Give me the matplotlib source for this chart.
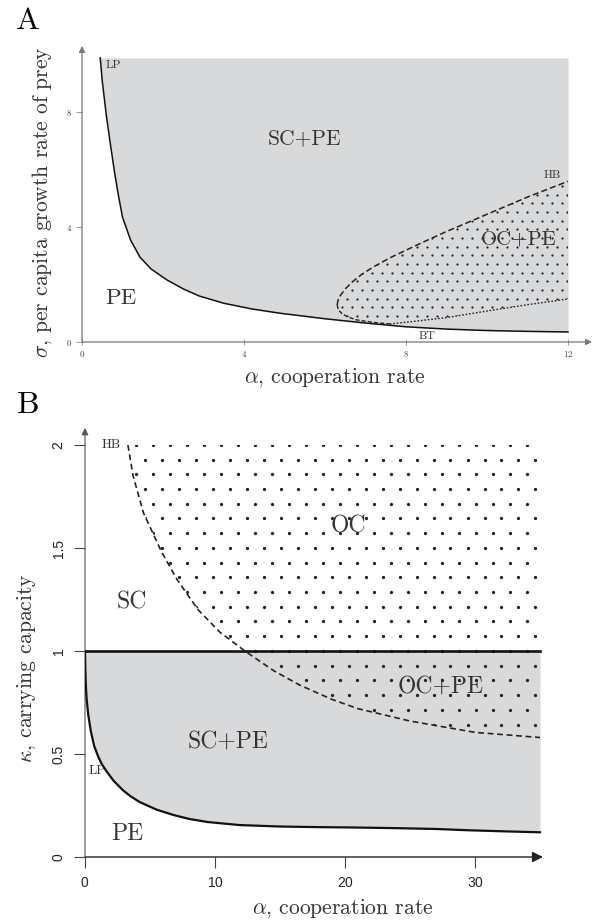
import numpy as np
import matplotlib.pyplot as plt
from matplotlib.patches import Polygon

plt.rcParams['mathtext.fontset'] = 'cm'
plt.rcParams['font.family'] = ['cmr10', 'DejaVu Serif']
plt.rcParams['axes.formatter.use_mathtext'] = True

# ---- panel A data (alpha, sigma) ----
lp_a_alpha = [0.45, 0.5, 0.6, 0.7, 0.8, 0.9, 1.0, 1.2, 1.43, 1.7, 2.1, 2.5, 2.9, 3.5, 4.2, 4.9, 6.0, 7.0, 8.0, 9.0, 10.0, 11.0, 12.0]
lp_a_sigma = [9.9, 9.1, 7.9, 6.9, 5.95, 5.1, 4.35, 3.55, 2.96, 2.55, 2.16, 1.85, 1.6, 1.35, 1.15, 1.0, 0.81, 0.66, 0.53, 0.45, 0.4, 0.37, 0.35]
hb_a_up_alpha = [6.3, 6.32, 6.38, 6.5, 6.68, 6.9, 7.2, 7.6, 8.0, 8.5, 9.0, 9.5, 10.0, 11.0, 12.0]
hb_a_up_sigma = [1.29, 1.45, 1.62, 1.85, 2.1, 2.35, 2.62, 2.93, 3.2, 3.53, 3.85, 4.15, 4.45, 5.05, 5.6]
hb_a_lo_alpha = [6.3, 6.33, 6.41, 6.55, 6.78, 7.2, 7.6]
hb_a_lo_sigma = [1.29, 1.12, 1.0, 0.88, 0.77, 0.68, 0.63]
bt_a_alpha = [7.6, 8.2, 9.0, 10.0, 11.0, 12.0]
bt_a_sigma = [0.63, 0.72, 0.85, 1.08, 1.3, 1.5]
a_top = 9.9
a_xticks = [0, 4, 8, 12]
a_yticks = [0, 4, 8]

# ---- panel B data (alpha, kappa) ----
lp_b_alpha = [0.0, 0.02, 0.06, 0.12, 0.25, 0.45, 0.7, 1.0, 1.3, 1.67, 2.2, 2.9, 3.5, 4.2, 5.5, 6.8, 8.0, 9.4, 11.9, 15.0, 18.0, 21.0, 24.0, 27.0, 29.4, 32.0, 35.0]
lp_b_kappa = [1.0, 0.92, 0.84, 0.77, 0.69, 0.61, 0.54, 0.49, 0.45, 0.415, 0.37, 0.325, 0.295, 0.267, 0.23, 0.204, 0.185, 0.17, 0.155, 0.148, 0.145, 0.143, 0.14, 0.136, 0.13, 0.125, 0.12]
hb_b_alpha = [3.3, 3.7, 4.5, 5.9, 7.1, 8.7, 10.4, 12.3, 14.5, 16.5, 19.0, 21.0, 25.0, 30.0, 35.0]
hb_b_kappa = [2.0, 1.85, 1.67, 1.48, 1.345, 1.2, 1.09, 1.0, 0.905, 0.835, 0.765, 0.72, 0.66, 0.605, 0.58]
b_right = 35.0
b_top = 2.0
b_xticks = [0, 10, 20, 30]
b_yticks = [0, 0.5, 1, 1.5, 2]
b_yticklabels = ['0', '0.5', '1', '1.5', '2']

GRAY = '#d8d9db'
W, H = 597, 922
fig = plt.figure(figsize=(W / 100, H / 100), dpi=100)


def px_axes(x0, y0, x1, y1):
    """axes from a pixel box (left, top, right, bottom)"""
    ax = fig.add_axes([x0 / W, 1 - y1 / H, (x1 - x0) / W, (y1 - y0) / H])
    for s in ax.spines.values():
        s.set_visible(False)
    ax.patch.set_alpha(0)
    return ax


def stipple(ax, patch, step_px, size, color):
    """dot texture clipped to a patch"""
    bb = ax.get_window_extent()
    ny = int(bb.height / (step_px * 0.866)) + 2
    nx = int(bb.width / step_px) + 2
    pts = []
    for j in range(ny):
        for i in range(nx):
            pts.append((i * step_px + (j % 2) * step_px / 2 + bb.x0, j * step_px * 0.866 + bb.y0))
    pts = ax.transData.inverted().transform(np.array(pts))
    sc = ax.scatter(pts[:, 0], pts[:, 1], s=size, color=color, linewidths=0, zorder=3)
    sc.set_clip_path(patch)


def arrow(ax, x0, y0, x1, y1, color, lw, scale):
    ax.annotate('', xy=(x1, y1), xytext=(x0, y0), annotation_clip=False,
                arrowprops=dict(arrowstyle='-|>', color=color, lw=lw, shrinkA=0, shrinkB=0,
                                mutation_scale=scale))


# ================= panel A =================
axA = px_axes(82, 46, 592, 342)
axA.set_xlim(0, 510 / 40.5)
axA.set_ylim(0, 296 / 28.7)
axA.fill_between(lp_a_alpha, lp_a_sigma, a_top, color=GRAY, lw=0, zorder=1)
axA.plot(lp_a_alpha, lp_a_sigma, color='#111', lw=1.1, zorder=4)
axA.plot(hb_a_up_alpha, hb_a_up_sigma, color='#222', lw=1.1, dashes=(4, 2), zorder=4)
axA.plot(hb_a_lo_alpha, hb_a_lo_sigma, color='#222', lw=1.0, dashes=(3, 1.5), zorder=4)
axA.plot(bt_a_alpha, bt_a_sigma, color='#222', lw=1.0, dashes=(1.2, 1.3), zorder=4)
verts = (list(zip(hb_a_up_alpha, hb_a_up_sigma)) + list(zip(bt_a_alpha, bt_a_sigma))[::-1]
         + list(zip(hb_a_lo_alpha, hb_a_lo_sigma))[::-1])
regA = Polygon(verts, closed=True, fc='none', ec='none')
axA.add_patch(regA)
stipple(axA, regA, 10, 2.6, '#222')

arrow(axA, 0, 0, 510 / 40.5, 0, '#777', 0.9, 9)
arrow(axA, 0, 0, 0, 296 / 28.7, '#777', 0.9, 9)
axA.set_xticks(a_xticks)
axA.set_yticks(a_yticks)
axA.tick_params(axis='x', direction='inout', length=4, width=0.6, color='#888',
                labelsize=6.5, labelcolor='#444', pad=3)
axA.tick_params(axis='y', direction='out', length=4, width=0.6, color='#888',
                labelsize=6.5, labelcolor='#444', pad=3)

axA.text(0.78, 9.65, 'LP', fontsize=8.5, ha='center', va='center', color='#333')
axA.text(5.5, 7.1, 'SC+PE', fontsize=15.5, ha='center', va='center', color='#333')
axA.text(11.62, 5.82, 'HB', fontsize=8.5, ha='center', va='center', color='#333')
axA.text(10.78, 3.55, 'OC+PE', fontsize=15, ha='center', va='center', color='#333')
axA.text(0.95, 1.52, 'PE', fontsize=16.5, ha='center', va='center', color='#333')
axA.text(8.51, 0.19, 'BT', fontsize=8.5, ha='center', va='center', color='#333')

fig.text(28 / W, 1 - 21 / H, 'A', fontsize=23, ha='center', va='center')
fig.text(335 / W, 1 - 378 / H, r'$\alpha$, cooperation rate', fontsize=15.5,
         ha='center', va='center', color='#333')
fig.text(42 / W, 1 - 202 / H, r'$\sigma$, per capita growth rate of prey', fontsize=15.5,
         ha='center', va='center', rotation=90, color='#333')

# ================= panel B =================
axB = px_axes(85, 428, 543, 857)
axB.set_xlim(0, 458 / 13)
axB.set_ylim(0, 429 / 206)
axB.fill_between(lp_b_alpha, lp_b_kappa, 1.0, color=GRAY, lw=0, zorder=1)
axB.plot(lp_b_alpha, lp_b_kappa, color='#111', lw=1.6, zorder=4)
axB.plot([0, b_right], [1.0, 1.0], color='#111', lw=1.9, zorder=4)
axB.plot(hb_b_alpha, hb_b_kappa, color='#222', lw=1.2, dashes=(3.5, 2.2), zorder=4)
vertsB = list(zip(hb_b_alpha, hb_b_kappa)) + [(b_right, b_top)]
regB = Polygon(vertsB, closed=True, fc='none', ec='none')
axB.add_patch(regB)
stipple(axB, regB, 17, 5.5, '#222')

arrow(axB, 0, 0, 458 / 13, 0, '#222', 1.0, 16)
arrow(axB, 0, 0, 0, 429 / 206, '#555', 0.8, 10)
axB.set_xticks(b_xticks)
axB.set_yticks(b_yticks)
axB.set_yticklabels(b_yticklabels)
for lab in axB.get_xticklabels() + axB.get_yticklabels():
    lab.set_family(['Liberation Sans', 'DejaVu Sans'])
for lab in axB.get_yticklabels():
    lab.set_rotation(90)
    lab.set_va('center')
axB.tick_params(direction='out', length=8, width=0.8, color='#444',
                labelsize=10, labelcolor='#222', pad=6)

axB.text(2.0, 2.0, 'HB', fontsize=9.5, ha='center', va='center', color='#333')
axB.text(20.25, 1.603, 'OC', fontsize=17, ha='center', va='center', color='#333')
axB.text(3.6, 1.238, 'SC', fontsize=17, ha='center', va='center', color='#333')
axB.text(27.36, 0.826, 'OC+PE', fontsize=17, ha='center', va='center', color='#333')
axB.text(11.0, 0.56, 'SC+PE', fontsize=17, ha='center', va='center', color='#333')
axB.text(0.95, 0.42, 'LP', fontsize=9.5, ha='center', va='center', color='#333')
axB.text(3.26, 0.11, 'PE', fontsize=17, ha='center', va='center', color='#333')

fig.text(28 / W, 1 - 405 / H, 'B', fontsize=23, ha='center', va='center')
fig.text(343 / W, 1 - 909 / H, r'$\alpha$, cooperation rate', fontsize=15.5,
         ha='center', va='center', color='#333')
fig.text(27 / W, 1 - 668 / H, r'$\kappa$, carrying capacity', fontsize=15.5,
         ha='center', va='center', rotation=90, color='#333')

fig.savefig('out.png', dpi=100)
